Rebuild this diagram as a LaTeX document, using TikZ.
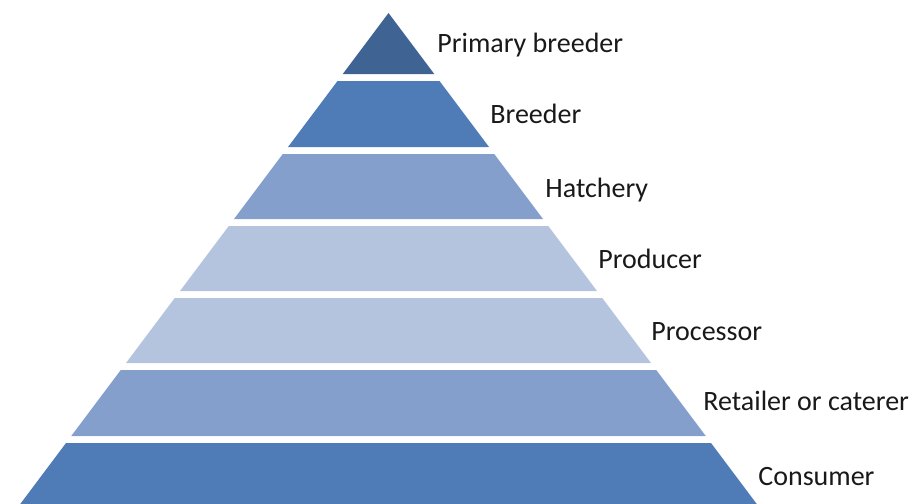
\documentclass[tikz,border=0pt]{standalone}
\usepackage{fontspec}
\setmainfont{Carlito}
\usepackage{tikz}
\usetikzlibrary{positioning}
\definecolor{tierdark}{HTML}{3F6392}
\definecolor{tiermid}{HTML}{4F7BB6}
\definecolor{tierlight}{HTML}{849FCB}
\definecolor{tierpale}{HTML}{B5C4DE}
\tikzset{
    tier/.style={draw=none},
    etiqueta/.style={anchor=base west,inner sep=0pt,text=black!90,font=\fontsize{14}{17}\selectfont},
}
\begin{document}
\begin{tikzpicture}[x=0.5pt,y=-0.5pt]
\useasboundingbox (0,0) rectangle (912,504);

\fill[tier,tierdark]  (388.5,13) -- (434.25,74) -- (342.75,74) -- cycle;
\fill[tier,tiermid]   (337.5,81) -- (439.5,81) -- (489,147) -- (288,147) -- cycle;
\fill[tier,tierlight] (282.75,154) -- (494.25,154) -- (543,219) -- (234,219) -- cycle;
\fill[tier,tierpale]  (228.75,226) -- (548.25,226) -- (597,291) -- (180,291) -- cycle;
\fill[tier,tierpale]  (174.75,298) -- (602.25,298) -- (651,363) -- (126,363) -- cycle;
\fill[tier,tierlight] (120.75,370) -- (656.25,370) -- (705.75,436) -- (71.25,436) -- cycle;
\fill[tier,tiermid]   (66,443) -- (711,443) -- (756.75,504) -- (20.25,504) -- cycle;

\node[etiqueta] (primario)   at (437,52)  {Primary breeder};
\node[etiqueta] (criador)    at (490,123) {Breeder};
\node[etiqueta] (incubadora) at (545,197) {Hatchery};
\node[etiqueta] (productor)  at (598,268) {Producer};
\node[etiqueta] (procesador) at (651,340) {Processor};
\node[etiqueta] (minorista)  at (703,410) {Retailer or caterer};
\node[etiqueta] (consumidor) at (758,485) {Consumer};
\end{tikzpicture}
\end{document}
